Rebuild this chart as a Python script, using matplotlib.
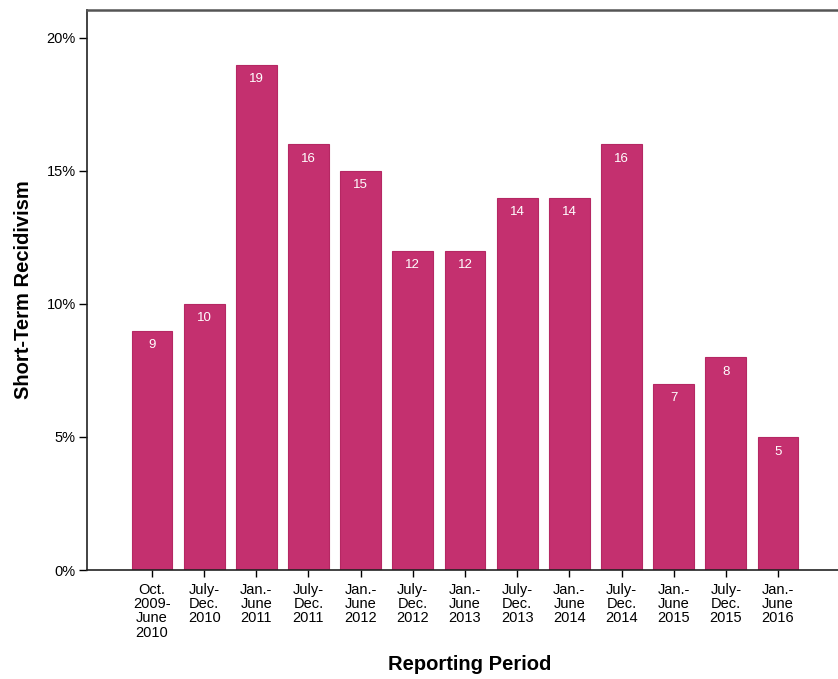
import matplotlib
matplotlib.use("Agg")
import matplotlib.pyplot as plt
from matplotlib.ticker import FuncFormatter

periods = [
    "Oct.\n2009-\nJune\n2010", "July-\nDec.\n2010", "Jan.-\nJune\n2011",
    "July-\nDec.\n2011", "Jan.-\nJune\n2012", "July-\nDec.\n2012",
    "Jan.-\nJune\n2013", "July-\nDec.\n2013", "Jan.-\nJune\n2014",
    "July-\nDec.\n2014", "Jan.-\nJune\n2015", "July-\nDec.\n2015",
    "Jan.-\nJune\n2016",
]
recidivism = [9, 10, 19, 16, 15, 12, 12, 14, 14, 16, 7, 8, 5]
y_ticks = [0, 5, 10, 15, 20]

plt.rcParams["font.family"] = ["Liberation Sans", "DejaVu Sans"]

fig = plt.figure(figsize=(8.38, 6.79), dpi=100)
ax = fig.add_axes([0.1038, 0.1605, 0.8962, 0.8248])

x = list(range(len(recidivism)))
ax.bar(x, recidivism, width=0.78, color="#C4306F", edgecolor="#B52863",
       linewidth=0.8, zorder=2)

for xi, v in zip(x, recidivism):
    ax.text(xi, v - 0.32, str(v), ha="center", va="top", color="white",
            fontsize=9.5)

ax.set_xlim(-1.246, 13.15)
ax.set_ylim(0, 21.05)
ax.set_yticks(y_ticks)
ax.yaxis.set_major_formatter(FuncFormatter(lambda v, _: f"{v:.0f}%"))
ax.set_xticks(x)
ax.set_xticklabels(periods, fontsize=10.5, linespacing=1.04)
ax.tick_params(axis="y", labelsize=10.5, length=6, width=1, direction="out", pad=2)
ax.tick_params(axis="x", length=5, width=1, direction="out", pad=4)

for side in ("left", "bottom", "top"):
    ax.spines[side].set_linewidth(1.2)
    ax.spines[side].set_color("#222222")
ax.spines["top"].set_color("#555555")
ax.spines["top"].set_linewidth(1.8)
ax.spines["right"].set_visible(False)

ax.set_ylabel("Short-Term Recidivism", fontsize=14.5, fontweight="bold", labelpad=10)
ax.set_xlabel("Reporting Period", fontsize=14.5, fontweight="bold")
ax.xaxis.set_label_coords(0.51, -0.152)

fig.savefig("out.png", dpi=100)
